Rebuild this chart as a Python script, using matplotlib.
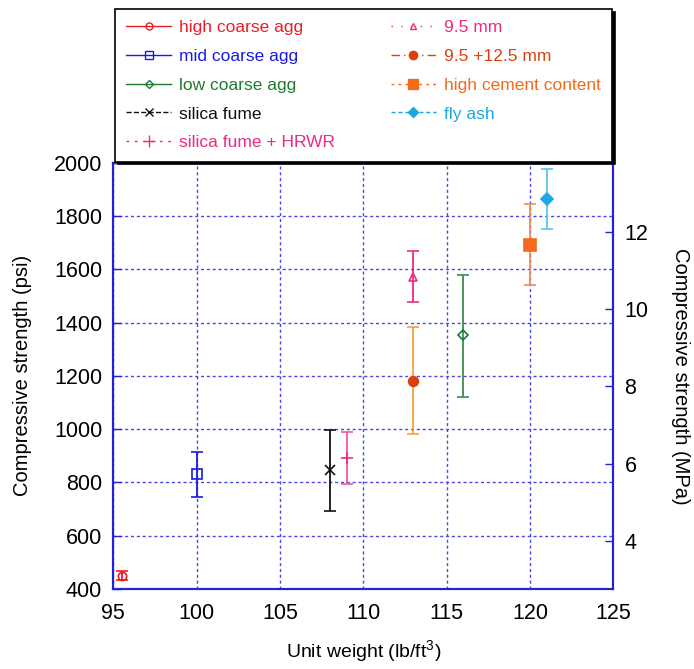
#!/usr/bin/env python3
# Compressive strength vs unit weight for the different mixes
import matplotlib
matplotlib.use("Agg")
import matplotlib.pyplot as plt
from matplotlib.lines import Line2D

plt.rcParams['font.family'] = ['Liberation Sans', 'DejaVu Sans']
plt.rcParams['mathtext.fontset'] = 'custom'
plt.rcParams['mathtext.rm'] = 'Liberation Sans'
plt.rcParams['mathtext.it'] = 'Liberation Sans'

# data
labels = ["high coarse agg", "mid coarse agg", "low coarse agg", "silica fume",
          "silica fume + HRWR", "9.5 mm", "9.5 +12.5 mm", "high cement content", "fly ash"]
unit_weight = [95.5, 100, 116, 108, 109, 113, 113, 120, 121]
strength_psi = [450, 830, 1352, 845, 890, 1570, 1182, 1690, 1865]
err_low = [17, 83, 230, 152, 97, 92, 200, 150, 112]
err_high = [17, 83, 228, 150, 98, 97, 200, 155, 111]

colors = ["#EE1C25", "#1A1AE0", "#217A32", "#111111", "#EC2A84",
          "#EC2A84", "#D9420C", "#F26B1D", "#1AA8E2"]
err_colors = ["#EE1C25", "#1A1AE0", "#3F8A4E", "#111111", "#F05AA0",
              "#EC2A84", "#F7A040", "#F08A5A", "#5CC4EE"]
markers = ["o", "s", "D", "x", "+", "^", "o", "s", "D"]
filled = [False, False, False, True, True, False, True, True, True]
msizes = [6, 7, 5, 7, 9, 6, 7, 8, 6]
styles = ["-", "-", "-", "--", (0, (2, 4)), (0, (1, 6)), (0, (6, 3, 1, 3)), (0, (2, 3)), (0, (3, 2))]

fig = plt.figure(figsize=(6.94, 6.69), dpi=100)
ax = fig.add_axes([0.1633, 0.1196, 0.7204, 0.6372])
blue = "#2222D8"

for i in range(len(labels)):
    ax.errorbar(unit_weight[i], strength_psi[i], yerr=[[err_low[i]], [err_high[i]]],
                fmt=markers[i], color=colors[i], ecolor=err_colors[i],
                mfc=colors[i] if filled[i] else "none", mec=colors[i],
                ms=msizes[i], mew=1.2, elinewidth=1.3, capsize=4, capthick=1.3, zorder=3)

ax.set_xlim(95, 125)
ax.set_ylim(400, 2000)
ax.set_xticks(range(95, 126, 5))
ax.set_yticks(range(400, 2001, 200))
ax.grid(True, color="#4848E6", linestyle=(0, (2.2, 2.0)), linewidth=1.0)
for s in ax.spines.values():
    s.set_color(blue)
    s.set_linewidth(1.5)
ax.tick_params(axis="y", direction="in", color=blue, length=6, width=1, labelsize=15.5, pad=8)
ax.tick_params(axis="x", direction="in", color=blue, length=0, labelsize=15.5, pad=10)
ax.set_xlabel(r"Unit weight (lb/ft$^{3}$)", fontsize=14, labelpad=10)
ax.set_ylabel("Compressive strength (psi)", fontsize=14.5, labelpad=16)

ax2 = ax.twinx()
ax2.set_ylim(400 * 0.0068948, 2000 * 0.0068948)
ax2.set_yticks([4, 6, 8, 10, 12])
ax2.tick_params(axis="y", direction="in", color=blue, length=6, width=1, labelsize=15.5, pad=8)
for s in ax2.spines.values():
    s.set_color(blue)
    s.set_linewidth(1.5)
ax2.set_ylabel("Compressive strength (MPa)", fontsize=14.5, rotation=270, labelpad=30)

handles = []
for i in range(len(labels)):
    handles.append(Line2D([0], [0], color=colors[i], linestyle=styles[i], linewidth=1,
                          marker=markers[i], ms=msizes[i] - 1,
                          mfc=colors[i] if filled[i] else "none", mec=colors[i]))
leg = fig.legend(handles, labels, ncol=2, loc="upper left",
                 bbox_to_anchor=(115 / 694, 1 - 9 / 669), borderaxespad=0, fontsize=12.5,
                 frameon=True, fancybox=False, handlelength=2.6, handletextpad=0.45,
                 columnspacing=3.2, labelspacing=0.78, borderpad=0.65,
                 shadow={'color': 'black', 'alpha': 1})
leg.get_frame().set_edgecolor("black")
leg.get_frame().set_linewidth(1.2)
for t, c in zip(leg.get_texts(), colors):
    t.set_color(c)

plt.savefig("out.png", dpi=100)
